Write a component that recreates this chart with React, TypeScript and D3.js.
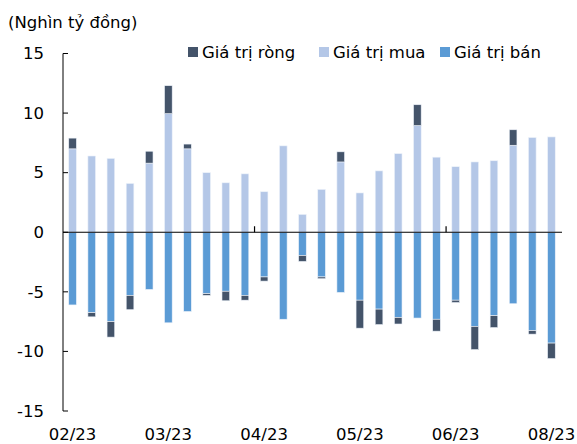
import React from "react";
import * as d3 from "d3";

// weekly values, nghìn tỷ đồng
const buy = [7.0, 6.4, 6.2, 4.1, 5.8, 9.95, 7.0, 5.0, 4.15, 4.9, 3.4, 7.25, 1.5,
  3.6, 5.9, 3.3, 5.15, 6.6, 8.95, 6.3, 5.5, 5.9, 6.0, 7.3, 7.95, 8.0];
const sell = [6.1, 6.75, 7.5, 5.3, 4.8, 7.6, 6.65, 5.15, 4.95, 5.3, 3.75, 7.3, 1.95,
  3.75, 5.05, 5.7, 6.45, 7.15, 7.2, 7.3, 5.7, 7.9, 7.0, 6.0, 8.25, 9.3];
const net = [0.9, -0.35, -1.3, -1.2, 1.0, 2.35, 0.4, -0.15, -0.8, -0.4, -0.35, 0, -0.5,
  -0.15, 0.85, -2.35, -1.3, -0.55, 1.75, -1.0, -0.2, -1.95, -1.0, 1.3, -0.3, -1.3];
const tickIdx = [0, 5, 10, 15, 20, 25];
const tickLabels = ["02/23", "03/23", "04/23", "05/23", "06/23", "08/23"];
const yTicks = [15, 10, 5, 0, -5, -10, -15];

const C_NET = "#44546A";
const C_BUY = "#B4C7E7";
const C_SELL = "#5B9BD5";
const FONT = "DejaVu Sans, Tahoma, sans-serif";
const FS = 16.5;

const App = () => {
  const left = 63, right = 561;
  const x = d3.scaleBand<number>()
    .domain(d3.range(buy.length))
    .range([left, right])
    .paddingInner(0.6)
    .paddingOuter(0.3);
  const y = d3.scaleLinear().domain([-15, 15]).range([411, 53.5]);
  const bw = x.bandwidth();
  const step = x.step();

  const bars = buy.map((b, i) => {
    const s = sell[i];
    const n = net[i];
    const bx = x(i)!;
    const segs = [
      { y0: 0, y1: b, c: C_BUY },
      { y0: 0, y1: -s, c: C_SELL },
    ];
    if (n > 0) segs.push({ y0: b, y1: b + n, c: C_NET });
    if (n < 0) segs.push({ y0: -s, y1: -s + n, c: C_NET });
    return (
      <g key={i}>
        {segs.map((g, j) => (
          <rect key={j} x={bx} width={bw}
            y={y(Math.max(g.y0, g.y1))}
            height={Math.abs(y(g.y0) - y(g.y1))}
            fill={g.c} stroke="#eef3fa" strokeWidth={0.6} />
        ))}
      </g>
    );
  });

  const legend = [
    { label: "Giá trị ròng", c: C_NET, x: 188 },
    { label: "Giá trị mua", c: C_BUY, x: 319 },
    { label: "Giá trị bán", c: C_SELL, x: 440 },
  ];

  return (
    <svg width={577} height={444} style={{ position: "absolute", left: 0, top: 0 }}
      fontFamily={FONT}>
      <rect width={577} height={444} fill="white" />
      <text x={8} y={28} fontSize={FS} fill="#000">(Nghìn tỷ đồng)</text>

      {legend.map((l) => (
        <g key={l.label} transform={`translate(${l.x}, 52)`}>
          <rect x={0} y={-5} width={10} height={10} fill={l.c} />
          <text x={14} y={5.5} fontSize={FS} fill="#000">{l.label}</text>
        </g>
      ))}

      {bars}

      {/* y axis */}
      <line x1={left} x2={left} y1={y(15)} y2={y(-15)} stroke="#000" />
      {yTicks.map((t) => (
        <g key={t}>
          <line x1={left} x2={left + 5} y1={y(t)} y2={y(t)} stroke="#000" />
          <text x={44} y={y(t)} dy="0.35em" textAnchor="end" fontSize={FS}>{t}</text>
        </g>
      ))}

      {/* zero line with category ticks */}
      <line x1={left} x2={right + 1} y1={y(0)} y2={y(0)} stroke="#000" strokeWidth={1.2} />
      {[10, 20].map((k) => (
        <line key={k} x1={left + k * step} x2={left + k * step} y1={y(0)} y2={y(0) - 6}
          stroke="#000" strokeWidth={1.2} />
      ))}

      {tickIdx.map((k, i) => (
        <text key={k} x={x(k)! + bw / 2} y={434} dy="0.35em" textAnchor="middle" fontSize={FS}>
          {tickLabels[i]}
        </text>
      ))}
    </svg>
  );
};

export default App;
